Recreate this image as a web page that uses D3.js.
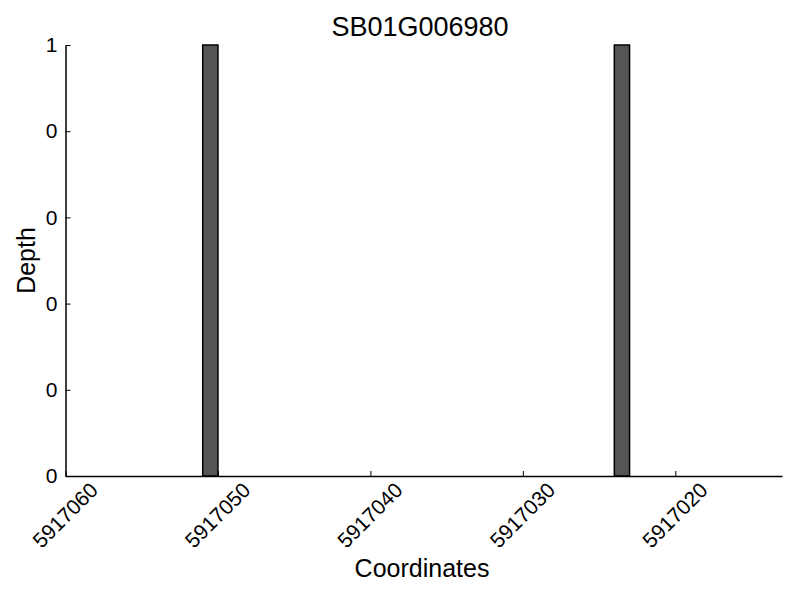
<!DOCTYPE html>
<html>
<head>
<meta charset="utf-8">
<script src="https://cdn.jsdelivr.net/npm/d3@7"></script>
<style>
  body { margin: 0; background: #fff; }
  svg { display: block; font-family: "Liberation Sans", Arial, sans-serif; }
</style>
</head>
<body>
<div id="viz"></div>
<script>
// ====================
// DATA
// ====================
const title = 'SB01G006980';
const barStarts = [5917051, 5917024];   // left edge of each bar (axis runs high -> low)
const barDepths = [1, 1];
const barWidth = 1;                      // in coordinate units
const xDomain = [5917060, 5917013];
const xTicks = [5917060, 5917050, 5917040, 5917030, 5917020];
const yTicks = [0, 0.2, 0.4, 0.6, 0.8, 1];

// ====================
// SETUP
// ====================
const width = 800;
const height = 600;
const margin = { top: 45, right: 18, bottom: 124, left: 65.5 };

const x = d3.scaleLinear()
  .domain(xDomain)
  .range([margin.left, width - margin.right]);

const y = d3.scaleLinear()
  .domain([0, 1])
  .range([height - margin.bottom, margin.top]);

const svg = d3.select('#viz')
  .append('svg')
  .attr('width', width)
  .attr('height', height);

// bars
svg.append('g')
  .selectAll('rect')
  .data(barStarts)
  .join('rect')
  .attr('x', d => x(d))
  .attr('y', (d, i) => y(barDepths[i]))
  .attr('width', d => x(d - barWidth) - x(d))
  .attr('height', (d, i) => y(0) - y(barDepths[i]))
  .attr('fill', '#555555')
  .attr('stroke', '#000')
  .attr('stroke-width', 1.5);

// x axis (ticks point inward)
const xAxis = svg.append('g')
  .attr('transform', `translate(0,${y(0)})`)
  .call(d3.axisBottom(x).tickValues(xTicks).tickSizeInner(-5).tickSizeOuter(0).tickFormat(d3.format('d')));

xAxis.select('.domain').attr('stroke-width', 1.5);
xAxis.selectAll('.tick line').attr('stroke-width', 1);
xAxis.selectAll('.tick text')
  .attr('font-size', 21)
  .attr('fill', '#000')
  .attr('text-anchor', 'middle')
  .attr('dominant-baseline', 'central')
  .attr('y', 0)
  .attr('dy', 0)
  .attr('transform', 'translate(-1,39) rotate(-45)');

// y axis (ticks point inward, labels truncated like %d)
const yAxis = svg.append('g')
  .attr('transform', `translate(${margin.left},0)`)
  .call(d3.axisLeft(y).tickValues(yTicks).tickSizeInner(-5).tickSizeOuter(0).tickFormat(d => String(Math.trunc(d))));

yAxis.select('.domain').attr('stroke-width', 1.5);
yAxis.selectAll('.tick text')
  .attr('font-size', 21)
  .attr('fill', '#000')
  .attr('x', -8);

// title and axis labels
svg.append('text')
  .attr('x', 420)
  .attr('y', 36)
  .attr('text-anchor', 'middle')
  .attr('font-size', 27)
  .text(title);

svg.append('text')
  .attr('x', 422)
  .attr('y', 577)
  .attr('text-anchor', 'middle')
  .attr('font-size', 25)
  .text('Coordinates');

svg.append('text')
  .attr('transform', `translate(35,${(margin.top + height - margin.bottom) / 2}) rotate(-90)`)
  .attr('text-anchor', 'middle')
  .attr('font-size', 25)
  .text('Depth');
</script>
</body>
</html>
